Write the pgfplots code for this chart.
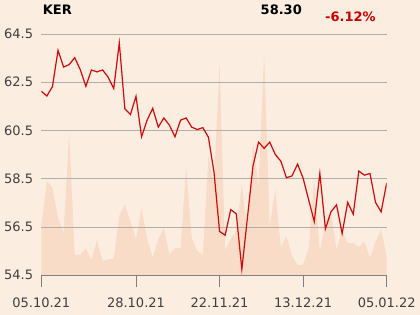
\documentclass[border=0pt]{standalone}
\usepackage{pgfplots}
\pgfplotsset{compat=1.18}
\usepackage{fontspec}
\setmainfont{DejaVu Sans}
\setsansfont{DejaVu Sans}
\definecolor{bgc}{HTML}{FCEDE1}
\definecolor{areac}{HTML}{F8DCC7}
\definecolor{linec}{HTML}{D10A0A}
\definecolor{gridc}{HTML}{B1ADA9}
\definecolor{axisc}{HTML}{808080}
\definecolor{labc}{HTML}{3F3F3F}
\definecolor{redt}{HTML}{CC0000}
\pgfplotstableread{
x y
0 62.13
1 61.93
2 62.32
3 63.82
4 63.13
5 63.23
6 63.52
7 63.02
8 62.33
9 63.01
10 62.93
11 63.01
12 62.71
13 62.24
14 64.13
15 61.40
16 61.16
17 61.92
18 60.24
19 60.93
20 61.42
21 60.64
22 61.02
23 60.72
24 60.24
25 60.93
26 61.02
27 60.64
28 60.54
29 60.62
30 60.22
31 58.78
32 56.32
33 56.16
34 57.22
35 57.05
36 54.75
37 56.88
38 59.03
39 60.02
40 59.76
41 60.02
42 59.51
43 59.23
44 58.54
45 58.62
46 59.11
47 58.52
48 57.62
49 56.73
50 58.72
51 56.43
52 57.13
53 57.42
54 56.23
55 57.52
56 57.03
57 58.82
58 58.65
59 58.72
60 57.52
61 57.13
62 58.33
}\pricetable
\pgfplotstableread{
x y
0 54.5
0 56.54
1 58.40
2 58.13
3 56.89
4 56.27
5 60.40
6 55.33
7 55.36
8 55.62
9 55.13
10 55.96
11 55.09
12 55.16
13 55.19
14 56.98
15 57.42
16 56.75
17 55.99
18 57.30
19 55.99
20 55.23
21 55.99
22 56.46
23 55.37
24 55.64
25 55.62
26 58.99
27 56.06
28 55.51
29 55.34
30 59.43
31 58.30
32 63.32
33 55.52
34 56.00
35 56.34
36 58.25
37 56.27
38 59.98
39 58.20
40 63.74
41 56.54
42 58.06
43 55.65
44 56.13
45 55.31
46 54.92
47 54.93
48 55.63
49 58.47
50 55.49
51 56.67
52 57.08
53 55.56
54 56.32
55 55.83
56 55.83
57 55.67
58 55.90
59 55.21
60 55.90
61 56.39
62 55.28
62 54.5
}\voltable
\begin{document}
\pagecolor{bgc}%
\begin{tikzpicture}
\path (0,0) rectangle (420bp,315bp);
\begin{axis}[
  set layers,
  at={(41.3bp,39.7bp)}, anchor=south west,
  scale only axis, width=345.4bp, height=241.3bp,
  xmin=0, xmax=62, ymin=54.5, ymax=64.5,
  axis x line*=bottom, axis y line*=left,
  x axis line style={draw=axisc, line width=0.9bp},
  y axis line style={draw=none},
  ytick style={draw=none},
  xtick style={draw=axisc, line width=0.9bp},
  tick align=outside, major tick length=12bp,
  ymajorgrids, grid style={draw=gridc, line width=0.8bp},
  xtick={0,17,32,47,62},
  xticklabels={05.10.21,28.10.21,22.11.21,13.12.21,05.01.22},
  ytick={54.5,56.5,58.5,60.5,62.5,64.5},
  yticklabels={54.5,56.5,58.5,60.5,62.5,64.5},
  xticklabel style={font=\fontsize{13bp}{15bp}\selectfont, text=labc, anchor=north, inner sep=0pt, yshift=-10bp},
  yticklabel style={font=\fontsize{13bp}{15bp}\selectfont, text=labc, anchor=east, inner sep=0pt, xshift=4bp},
  clip=true,
]
\addplot[on layer=axis background, fill=areac, draw=none] table[x=x,y=y]{\voltable} -- cycle;
\addplot[linec, line width=1.2bp, mark=none] table[x=x,y=y]{\pricetable};
\end{axis}
\node[anchor=base west, inner sep=0pt, font=\fontsize{13bp}{15bp}\selectfont\bfseries] at (42.7bp,300bp) {KER};
\node[anchor=base west, inner sep=0pt, font=\fontsize{13bp}{15bp}\selectfont\bfseries] at (260.5bp,300.5bp) {58.30};
\node[anchor=base west, inner sep=0pt, font=\fontsize{13bp}{15bp}\selectfont\bfseries, text=redt] at (325bp,293.3bp) {-6.12\%};
\pgfresetboundingbox
\path[use as bounding box] (0,0) rectangle (420bp,315bp);
\end{tikzpicture}
\end{document}
